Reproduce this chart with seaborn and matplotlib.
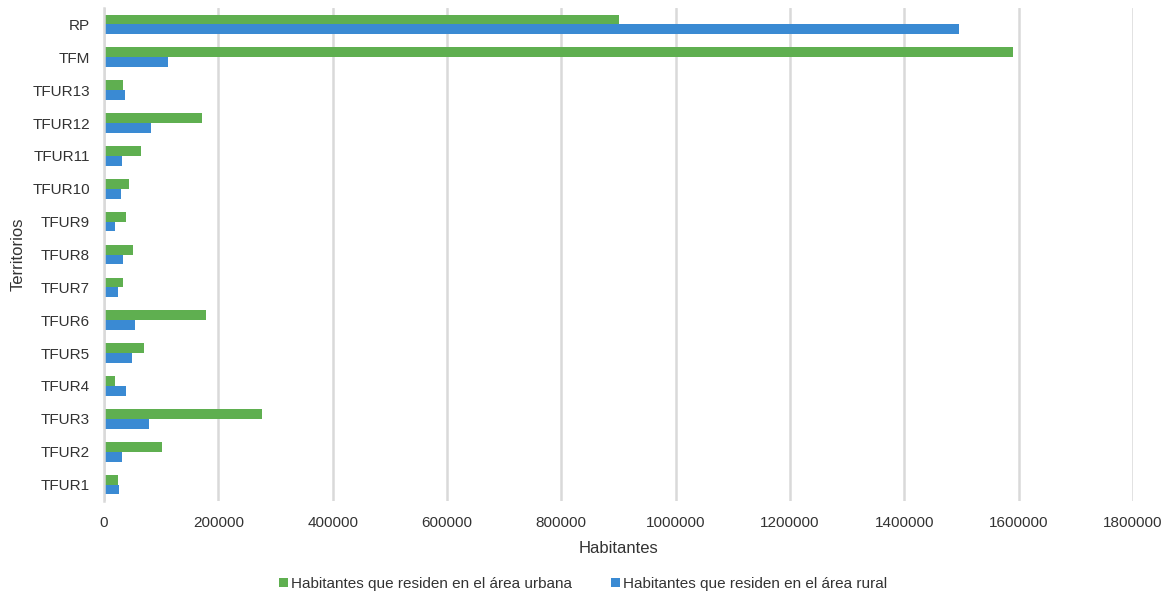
import matplotlib
matplotlib.use("Agg")
import matplotlib.pyplot as plt
from matplotlib.patches import Patch
import pandas as pd
import seaborn as sns

# Territories, top to bottom
territorios = ["RP", "TFM", "TFUR13", "TFUR12", "TFUR11", "TFUR10", "TFUR9",
               "TFUR8", "TFUR7", "TFUR6", "TFUR5", "TFUR4", "TFUR3", "TFUR2", "TFUR1"]

# Inhabitants living in urban areas
urbana = [900000, 1590000, 34000, 172000, 64000, 44000, 38000,
          50000, 33000, 178000, 70000, 19000, 276000, 101000, 25000]

# Inhabitants living in rural areas
rural = [1495000, 112000, 36000, 82000, 31000, 29000, 20000,
         33000, 25000, 54000, 49000, 39000, 78000, 32000, 27000]

serie_urbana = "Habitantes que residen en el área urbana"
serie_rural = "Habitantes que residen en el área rural"
x_ticks = [0, 200000, 400000, 600000, 800000, 1000000, 1200000, 1400000, 1600000, 1800000]

df = pd.DataFrame({
    "Territorios": territorios * 2,
    "Habitantes": urbana + rural,
    "Serie": [serie_urbana] * len(territorios) + [serie_rural] * len(territorios),
})

verde = "#5FAF50"
azul = "#3A8AD3"
texto = "#333333"

sns.set_theme(style="white")
plt.rcParams["font.family"] = ["Liberation Sans", "DejaVu Sans"]

fig = plt.figure(figsize=(11.66, 5.92), dpi=100)
ax = fig.add_axes([104 / 1166, 1 - 501 / 592, (1133 - 104) / 1166, (501 - 8) / 592])

sns.barplot(data=df, x="Habitantes", y="Territorios", hue="Serie",
            order=territorios, hue_order=[serie_urbana, serie_rural],
            palette=[verde, azul], orient="h", width=0.6, ax=ax,
            edgecolor="none", linewidth=0, legend=False, saturation=1)

ax.set_xlim(0, 1800000)
ax.set_ylim(len(territorios) - 0.5, -0.5)
ax.set_xticks(x_ticks)
ax.set_xticklabels([str(v) for v in x_ticks])
ax.xaxis.grid(True, color="#D9D9D9", linewidth=1.8)
ax.yaxis.grid(False)
ax.set_axisbelow(True)
for s in ["top", "right", "bottom"]:
    ax.spines[s].set_visible(False)
ax.spines["left"].set_color("#D9D9D9")
ax.spines["left"].set_linewidth(1.8)

ax.tick_params(axis="y", length=0, pad=10, labelsize=11, labelcolor=texto)
ax.tick_params(axis="x", length=0, pad=11, labelsize=11, labelcolor=texto)
ax.set_xlabel("Habitantes", fontsize=12, color=texto, labelpad=8)
ax.set_ylabel("Territorios", fontsize=12, color=texto, labelpad=5)

handles = [Patch(facecolor=verde, edgecolor="none"), Patch(facecolor=azul, edgecolor="none")]
fig.legend(handles, [serie_urbana, serie_rural], loc="center",
           bbox_to_anchor=(0.5, 1 - 584 / 592), ncol=2, frameon=False,
           fontsize=11, handlelength=0.6, handleheight=0.6, handletextpad=0.15,
           columnspacing=2.6, labelcolor=texto)

fig.savefig("out.png", dpi=100)
